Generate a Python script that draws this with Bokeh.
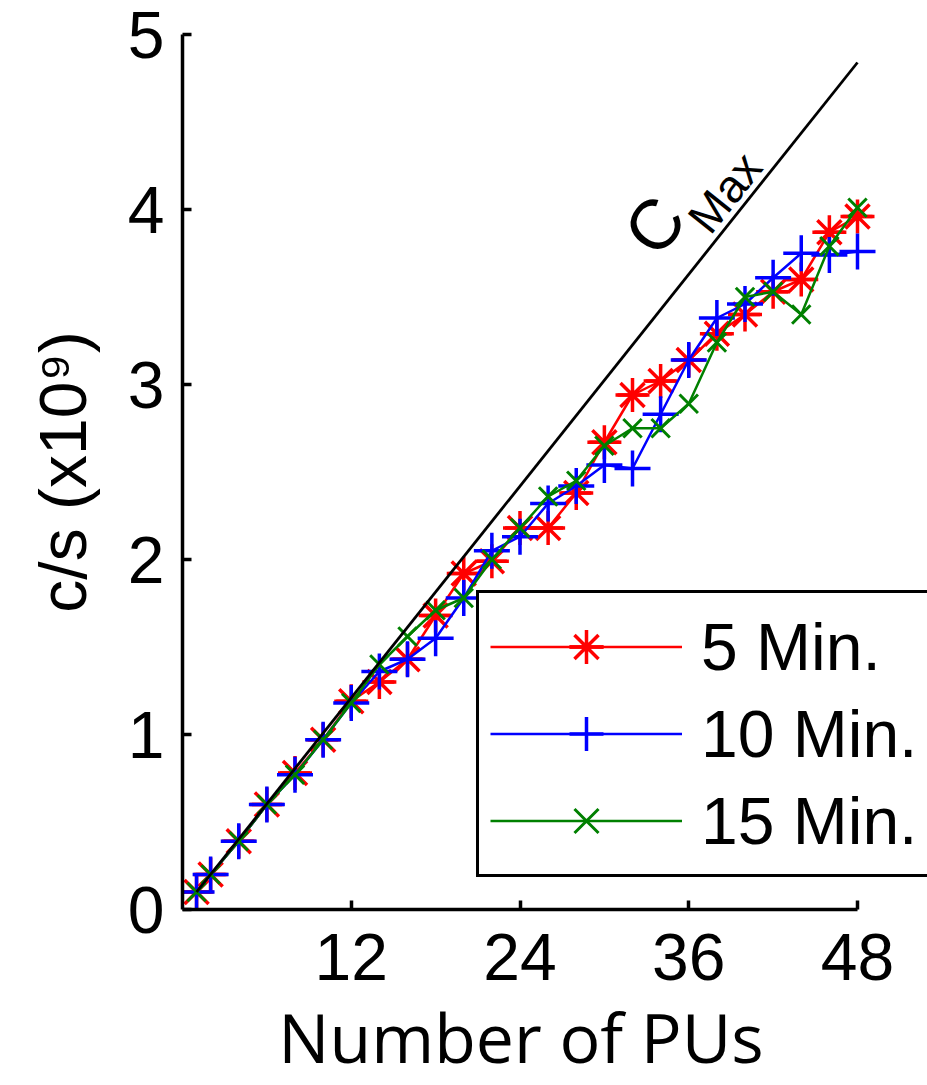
import numpy as np
from bokeh.plotting import figure
from bokeh.models import Range1d, FixedTicker, Legend, LegendItem, Label
from bokeh.embed import file_html
from bokeh.resources import INLINE

# ---- data ----
pus = [1, 2, 4, 6, 8, 10, 12, 14, 16, 18, 20, 22, 24, 26, 28, 30, 32, 34, 36, 38, 40, 42, 44, 46, 48]
min5 = [0.10, 0.20, 0.39, 0.60, 0.78, 0.97, 1.19, 1.30, 1.43, 1.68, 1.92, 1.99, 2.18, 2.18, 2.38,
        2.67, 2.94, 3.02, 3.14, 3.29, 3.40, 3.53, 3.60, 3.87, 3.96]
min10 = [0.10, 0.20, 0.39, 0.60, 0.77, 0.97, 1.18, 1.36, 1.43, 1.55, 1.78, 2.05, 2.13, 2.32, 2.42,
         2.54, 2.52, 2.83, 3.14, 3.38, 3.46, 3.61, 3.75, 3.74, 3.76]
min15 = [0.10, 0.20, 0.39, 0.60, 0.77, 0.97, 1.18, 1.40, 1.56, 1.71, 1.78, 2.00, 2.18, 2.36, 2.45,
         2.65, 2.75, 2.75, 2.89, 3.24, 3.50, 3.53, 3.40, 3.79, 4.01]
cmax_x = [1, 48]
cmax_y = [0.10, 4.84]
x_ticks = [12, 24, 36, 48]
y_ticks = [0, 1, 2, 3, 4, 5]
series_labels = ["5 Min.", "10 Min.", "15 Min."]

# ---- layout ----
W, H = 927, 1085
BL, BT, BB = 182, 34, 176
AXIS_PX = 675            # pixel length of the 0..48 x axis
FW, FH = W - BL, H - BT - BB
XMAX, YMAX = 48, 5
XEND = XMAX * FW / AXIS_PX   # frame continues to the right edge (legend overflows there)

p = figure(width=W, height=H, x_range=Range1d(0, XEND), y_range=Range1d(0, YMAX),
           output_backend="svg", toolbar_location=None,
           min_border_left=BL, min_border_right=0, min_border_top=BT, min_border_bottom=BB)
p.outline_line_color = None
p.xgrid.visible = False
p.ygrid.visible = False
p.background_fill_color = "white"
p.border_fill_color = "white"

for ax in (p.xaxis[0], p.yaxis[0]):
    ax.axis_line_width = 3.5
    ax.axis_line_color = "black"
    ax.major_tick_line_width = 3.5
    ax.major_tick_line_color = "black"
    ax.major_tick_in = 9
    ax.major_tick_out = 0
    ax.minor_tick_line_color = None
    ax.major_label_text_font = "Liberation Sans"
    ax.major_label_text_font_size = "66px"
    ax.major_label_text_color = "black"
    ax.axis_label_text_font_style = "normal"
    ax.axis_label_text_color = "black"
p.xaxis.bounds = (0, XMAX)
p.xaxis.ticker = FixedTicker(ticks=x_ticks)
p.yaxis.ticker = FixedTicker(ticks=y_ticks)
p.xaxis.major_label_standoff = 24
p.yaxis.major_label_standoff = 18

p.yaxis.axis_label = "c/s (x10\u2079)"
p.yaxis.axis_label_text_font = "Liberation Sans"
p.yaxis.axis_label_text_font_size = "66px"
p.yaxis.axis_label_standoff = 25

# trailing em space re-centres the title over the 0..48 axis (frame runs on to the right edge)
p.xaxis.axis_label = "Number of PUs\u2003"
p.xaxis.axis_label_text_font = "Open Sans"
p.xaxis.axis_label_text_font_size = "68px"
p.xaxis.axis_label_standoff = 7

# ---- series ----
l5 = p.line(pus, min5, line_color="#ff0000", line_width=2.5)
m5a = p.scatter(pus, min5, marker="asterisk", size=34, line_color="#ff0000", line_width=3.5)
m5b = p.scatter(pus, min5, marker="dash", size=30, line_color="#ff0000", line_width=3.5)
l10 = p.line(pus, min10, line_color="#0000ff", line_width=2.5)
m10 = p.scatter(pus, min10, marker="cross", size=36, line_color="#0000ff", line_width=3.5)
l15 = p.line(pus, min15, line_color="#008000", line_width=2.5)
m15 = p.scatter(pus, min15, marker="x", size=26, line_color="#008000", line_width=3)

p.line(cmax_x, cmax_y, line_color="black", line_width=2.8)

# ---- CMax label ----
px_x = AXIS_PX / XMAX
px_y = FH / YMAX
slope = (cmax_y[1] - cmax_y[0]) / (cmax_x[1] - cmax_x[0])
ang = float(np.arctan(slope * px_y / px_x))
xa = 37
ya = float(np.interp(xa, cmax_x, cmax_y))
p.add_layout(Label(x=xa, y=ya, text="C", angle=ang, x_offset=-48, y_offset=31,
                   text_align="center", text_baseline="alphabetic",
                   text_font="Liberation Sans", text_font_size="70px", text_color="black"))
p.add_layout(Label(x=xa, y=ya, text="Max", angle=ang, x_offset=22, y_offset=64,
                   text_align="center", text_baseline="alphabetic",
                   text_font="Liberation Sans", text_font_size="46px", text_color="black"))

# ---- legend ----
legend = Legend(items=[LegendItem(label=series_labels[0], renderers=[l5, m5a, m5b]),
                       LegendItem(label=series_labels[1], renderers=[l10, m10]),
                       LegendItem(label=series_labels[2], renderers=[l15, m15])],
                location=(294, 32), orientation="vertical",
                border_line_color="black", border_line_width=3.5, border_line_alpha=1.0,
                background_fill_color="white", background_fill_alpha=1.0,
                label_text_font="Liberation Sans", label_text_font_size="66px",
                label_text_color="black",
                glyph_width=192, glyph_height=85, label_standoff=19,
                padding=11, spacing=2, margin=0)
p.add_layout(legend)

open("out.html", "w").write(file_html(p, INLINE))
